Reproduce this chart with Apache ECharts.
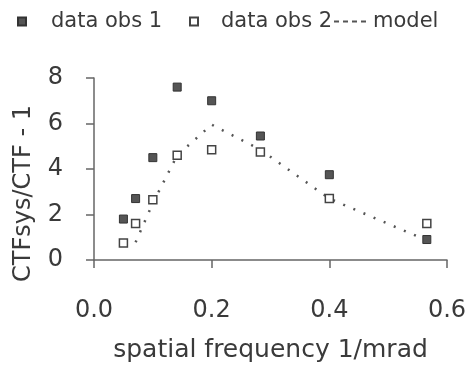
<!DOCTYPE html>
<html>
<head>
<meta charset="utf-8">
<script src="https://cdn.jsdelivr.net/npm/echarts@6/dist/echarts.min.js"></script>
<style>
  html, body { margin: 0; padding: 0; background: #fff; }
  #chart { width: 473px; height: 377px; }
</style>
</head>
<body>
<div id="chart"></div>
<script>
// Spatial frequencies (1/mrad) of the measurements
const frequency = [0.05, 0.0707, 0.1, 0.1414, 0.2, 0.2828, 0.4, 0.5657];
// CTFsys/CTF - 1 for the two observation sets
const obs1 = [1.8, 2.7, 4.5, 7.6, 7.0, 5.45, 3.75, 0.9];
const obs2 = [0.75, 1.6, 2.65, 4.6, 4.85, 4.75, 2.7, 1.6];
// Model curve
const modelFrequency = [0.0707, 0.1, 0.1414, 0.2, 0.2828, 0.4, 0.5657];
const model = [0.78, 2.5, 4.6, 5.95, 4.85, 2.7, 0.86];
// Axis ranges
const xTicks = [0, 0.6, 0.2];   // min, max, interval
const yTicks = [0, 8, 2];

const FONT = 'DejaVu Sans';
const TEXT = '#3a3a3a';
const AXIS = '#666';

const pairs = (xs, ys) => xs.map((x, i) => [x, ys[i]]);

const legendBase = {
  top: 11,
  padding: 0,
  itemHeight: 8,
  itemWidth: 8,
  textStyle: { fontFamily: FONT, fontSize: 21, color: TEXT }
};

const chart = echarts.init(document.getElementById('chart'), null, { renderer: 'canvas' });
chart.setOption({
  animation: false,
  backgroundColor: '#fff',
  legend: [
    Object.assign({}, legendBase, {
      left: 17, data: ['data obs 1'],
      textStyle: Object.assign({}, legendBase.textStyle, { padding: [0, 0, 0, 20] })
    }),
    Object.assign({}, legendBase, {
      left: 189, data: ['data obs 2'],
      textStyle: Object.assign({}, legendBase.textStyle, { padding: [0, 0, 0, 18] })
    }),
    Object.assign({}, legendBase, {
      left: 333, data: ['model'], itemWidth: 34,
      itemStyle: { opacity: 0 },
      lineStyle: { type: [5, 4], width: 2, color: '#555' }
    })
  ],
  grid: { left: 94, right: 26, top: 78, bottom: 117 },
  xAxis: {
    type: 'value',
    min: xTicks[0], max: xTicks[1], interval: xTicks[2],
    name: 'spatial frequency 1/mrad',
    nameLocation: 'middle',
    nameGap: 78,
    nameTextStyle: { fontFamily: FONT, fontSize: 25, color: TEXT },
    axisLine: { lineStyle: { color: AXIS, width: 1.5 } },
    axisTick: { length: 8, lineStyle: { color: AXIS, width: 1.5 } },
    axisLabel: {
      margin: 39, fontFamily: FONT, fontSize: 24, color: TEXT,
      formatter: v => v.toFixed(1)
    },
    splitLine: { show: false }
  },
  yAxis: {
    type: 'value',
    min: yTicks[0], max: yTicks[1], interval: yTicks[2],
    name: 'CTFsys/CTF - 1',
    nameLocation: 'middle',
    nameGap: 58,
    nameTextStyle: { fontFamily: FONT, fontSize: 24, color: TEXT, padding: [0, 49, 0, 0] },
    axisLine: { show: true, lineStyle: { color: AXIS, width: 1.5 } },
    axisTick: { show: true, length: 8, lineStyle: { color: AXIS, width: 1.5 } },
    axisLabel: { margin: 31, fontFamily: FONT, fontSize: 24, color: TEXT },
    splitLine: { show: false }
  },
  series: [
    {
      name: 'model',
      type: 'line',
      data: pairs(modelFrequency, model),
      symbol: 'none',
      z: 1,
      lineStyle: { color: '#555', width: 2.5, type: [2, 9], cap: 'butt' },
      itemStyle: { color: '#555' }
    },
    {
      name: 'data obs 1',
      type: 'scatter',
      data: pairs(frequency, obs1),
      symbol: 'rect',
      symbolSize: 8,
      z: 3,
      itemStyle: { color: '#555', borderColor: '#333', borderWidth: 1, opacity: 1 }
    },
    {
      name: 'data obs 2',
      type: 'scatter',
      data: pairs(frequency, obs2),
      symbol: 'rect',
      symbolSize: 8,
      z: 2,
      itemStyle: { color: '#fff', borderColor: '#444', borderWidth: 1.5, opacity: 1 }
    }
  ]
});
</script>
</body>
</html>
